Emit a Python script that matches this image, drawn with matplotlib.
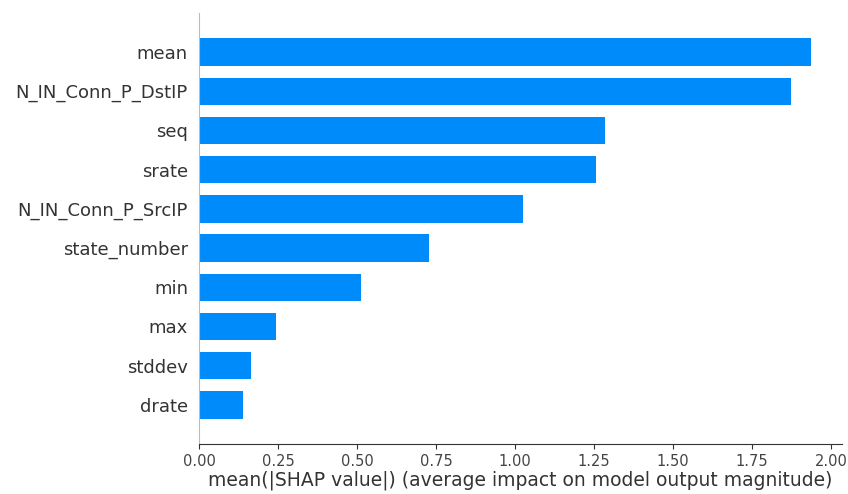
import matplotlib.pyplot as plt

features = ["mean", "N_IN_Conn_P_DstIP", "seq", "srate", "N_IN_Conn_P_SrcIP",
            "state_number", "min", "max", "stddev", "drate"]
importance = [1.937, 1.873, 1.284, 1.256, 1.026, 0.728, 0.512, 0.245, 0.163, 0.140]

fig = plt.figure(figsize=(8.48, 4.94), dpi=100)
ax = fig.add_axes([0.2347, 0.101, 0.7583, 0.873])

y_pos = list(range(len(features)))[::-1]
ax.barh(y_pos, importance, height=0.7, color="#008bfb", align="center")

ax.set_yticks(y_pos)
ax.set_yticklabels(features, fontsize=13, color="#333333")
ax.tick_params(axis="y", length=0, pad=8)
ax.tick_params(axis="x", labelsize=10.5, labelcolor="#444444", color="#333333")
ax.set_xticks([0, 0.25, 0.5, 0.75, 1.0, 1.25, 1.5, 1.75, 2.0])
ax.set_xlim(0, 2.035)
ax.set_ylim(-1, len(features))
ax.set_xlabel("mean(|SHAP value|) (average impact on model output magnitude)",
              fontsize=13.5, color="#333333", labelpad=1)

ax.spines["right"].set_visible(False)
ax.spines["top"].set_visible(False)
ax.spines["left"].set_color("#bbbbbb")
ax.spines["bottom"].set_color("#333333")

fig.savefig("out.png", dpi=100)
